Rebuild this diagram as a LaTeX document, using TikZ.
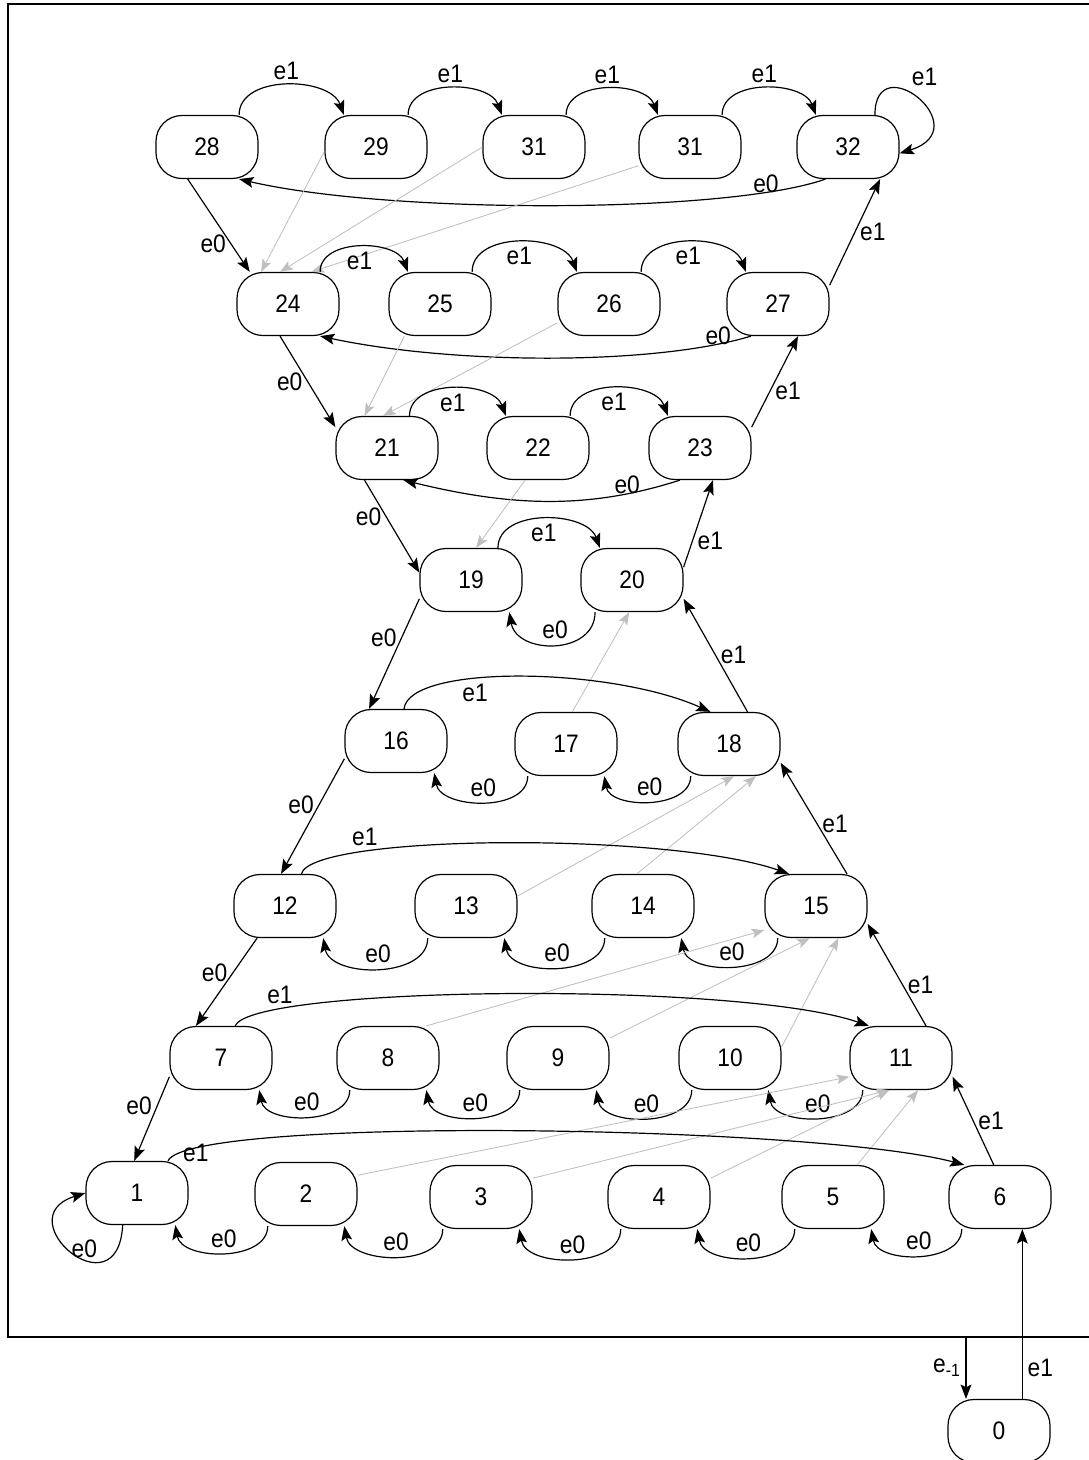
\documentclass[tikz,border=0pt]{standalone}
\usepackage{fontspec}
\setmainfont{Liberation Sans}[FakeStretch=0.9]
\usetikzlibrary{arrows.meta}

\begin{document}
\begin{tikzpicture}[x=0.025cm,y=-0.025cm,font=\fontsize{18}{21}\selectfont,
  state/.style={draw,rounded corners=0.65cm,minimum width=2.55cm,minimum height=1.575cm,line width=0.85pt},
  trans/.style={-{Stealth[length=3.6mm,width=2.7mm,inset=0.7mm]},line width=0.85pt},
  skip/.style={-{Stealth[length=3.2mm,width=2.4mm,inset=0.7mm]},line width=0.6pt,black!25}]
\useasboundingbox (0,0) rectangle (1089,1460);
\draw[line width=1pt] (8,4) rectangle (1100,1337);
\coordinate (exit) at (966,1337);
% states, top to bottom
\node[state] (q28) at (207,147) {28};
\node[state] (q29) at (376,147) {29};
\node[state] (q30) at (534,147) {31};
\node[state] (q31) at (690,147) {31};
\node[state] (q32) at (848,147) {32};
\node[state] (q24) at (288,304) {24};
\node[state] (q25) at (440,304) {25};
\node[state] (q26) at (609,304) {26};
\node[state] (q27) at (778,304) {27};
\node[state] (q21) at (387,448) {21};
\node[state] (q22) at (538,448) {22};
\node[state] (q23) at (700,448) {23};
\node[state] (q19) at (471,580) {19};
\node[state] (q20) at (632,580) {20};
\node[state] (q16) at (396,741) {16};
\node[state] (q17) at (566,744) {17};
\node[state] (q18) at (729,744) {18};
\node[state] (q12) at (285,906) {12};
\node[state] (q13) at (466,906) {13};
\node[state] (q14) at (643,906) {14};
\node[state] (q15) at (816,906) {15};
\node[state] (q7) at (221,1058) {7};
\node[state] (q8) at (388,1058) {8};
\node[state] (q9) at (558,1058) {9};
\node[state] (q10) at (730,1058) {10};
\node[state] (q11) at (901,1058) {11};
\node[state] (q1) at (137,1193) {1};
\node[state] (q2) at (306,1194) {2};
\node[state] (q3) at (481,1197) {3};
\node[state] (q4) at (659,1197) {4};
\node[state] (q5) at (833,1197) {5};
\node[state] (q6) at (1000,1197) {6};
\node[state] (q0) at (999,1431) {0};
% row 28..32
\draw[trans] (q28.45) to[out=90,in=110] node[above] {e1} (q29.135);
\draw[trans] (q29.45) to[out=90,in=110] node[above] {e1} (q30.135);
\draw[trans] (q30.45) to[out=90,in=110] node[above] {e1} (q31.135);
\draw[trans] (q31.45) to[out=90,in=110] node[above] {e1} (q32.135);
\draw[trans] (q32.50) .. controls +(0,-70) and +(80,-25) .. (q32.-7) node[pos=0.4,above right] {e1};
\draw[trans] (q32.235) .. controls +(-100,35) and +(150,35) .. (q28.-45) node[pos=0.15,above=-4pt] {e0};
\draw[trans] (q28.-121) -- node[pos=0.7,left] {e0} (q24.140);
\draw[skip] (q29.185) -- (q24.130);
\draw[skip] (q30.180) -- (q24.104);
\draw[skip] (q31.200) -- (q24.54);
% row 24..27
\draw[trans] (q24.45) to[out=90,in=110] node[below] {e1} (q25.135);
\draw[trans] (q25.45) to[out=90,in=110] node[below] {e1} (q26.135);
\draw[trans] (q26.45) to[out=90,in=110] node[below] {e1} (q27.135);
\draw[trans] (q27.230) .. controls +(-100,30) and +(130,28) .. (q24.-45) node[pos=0.1,above=-4pt] {e0};
\draw[trans] (q27.20) -- node[right] {e1} (q32.-45);
\draw[trans] (q24.-104) -- node[left] {e0} (q21.158);
\draw[skip] (q25.222) -- (q21.125);
\draw[skip] (q26.200) -- (q21.97);
% row 21..23
\draw[trans] (q21.55) to[out=90,in=110] node[below] {e1} (q22.135);
\draw[trans] (q22.45) to[out=90,in=110] node[below] {e1} (q23.135);
\draw[trans] (q23.-122) .. controls +(-90,29) and +(110,27) .. (q21.-63) node[pos=0.2,above=-4pt] {e0};
\draw[trans] (q23.22) -- node[pos=0.4,right] {e1} (q27.-58);
\draw[trans] (q21.-125) -- node[pos=0.4,left] {e0} (q19.172);
\draw[skip] (q22.-112) -- (q19.81);
% row 19..20
\draw[trans] (q19.50) to[out=90,in=110] node[below] {e1} (q20.135);
\draw[trans] (q20.221) to[out=-90,in=-80,looseness=1.3] node[above] {e0} (q19.-40);
\draw[trans] (q20.14) -- node[pos=0.3,right] {e1} (q23.-68);
\draw[trans] (q19.200) -- node[pos=0.35,left] {e0} (q16.130);
\draw[trans] (q18.60) -- node[right] {e1} (q20.-20);
\draw[skip] (q17.79) -- (q20.265);
% row 16..18
\draw[trans] (q16.76) .. controls +(5,-45) and +(-100,-45) .. (q18.120) node[pos=0.37,below] {e1};
\draw[trans] (q17.220) to[out=-90,in=-80] node[above] {e0} (q16.-40);
\draw[trans] (q18.220) to[out=-90,in=-80] node[above] {e0} (q17.-40);
\draw[trans] (q16.199) -- node[pos=0.4,left] {e0} (q12.97);
\draw[trans] (q15.46) -- node[pos=0.45,right] {e1} (q18.-20);
\draw[skip] (q13.11) -- (q18.-81);
\draw[skip] (q14.101) -- (q18.-50);
% row 12..15
\draw[trans] (q12.63) .. controls +(10,-40) and +(-120,-42) .. (q15.130) node[pos=0.25,above] {e1};
\draw[trans] (q13.220) to[out=-90,in=-80] node[above] {e0} (q12.-40);
\draw[trans] (q14.220) to[out=-90,in=-80] node[above] {e0} (q13.-40);
\draw[trans] (q15.220) to[out=-90,in=-80] node[above] {e0} (q14.-40);
\draw[trans] (q12.-131) -- node[pos=0.4,left] {e0} (q7.128);
\draw[trans] (q11.52) -- node[pos=0.4,right] {e1} (q15.-19);
\draw[skip] (q8.40) -- (q15.205);
\draw[skip] (q9.21) -- (q15.-101);
\draw[skip] (q10.12) -- (q15.-55);
% row 7..11
\draw[trans] (q7.66) .. controls +(15,-40) and +(-130,-45) .. (q11.135) node[pos=0.17,above] {e1};
\draw[trans] (q8.220) to[out=-90,in=-80] node[above] {e0} (q7.-40);
\draw[trans] (q9.220) to[out=-90,in=-80] node[above] {e0} (q8.-40);
\draw[trans] (q10.220) to[out=-90,in=-80] node[above] {e0} (q9.-40);
\draw[trans] (q11.220) to[out=-90,in=-80] node[above] {e0} (q10.-40);
\draw[trans] (q7.200) -- node[pos=0.35,left] {e0} (q1.95);
\draw[trans] (q6.101) -- node[right] {e1} (q11.-20);
\draw[skip] (q2.20) -- (q11.200);
\draw[skip] (q3.20) -- (q11.-110);
\draw[skip] (q4.20) -- (q11.-110);
\draw[skip] (q5.53) -- (q11.-62);
% row 1..6
\draw[trans] (q1.46) .. controls +(20,-45) and +(-150,-40) .. (q6.138) node[pos=0.06,right] {e1};
\draw[trans] (q1.-114) .. controls +(-5,90) and +(-80,25) .. (q1.180) node[pos=0.4,above=-2pt] {e0};
\draw[trans] (q2.220) to[out=-90,in=-80] node[above] {e0} (q1.-40);
\draw[trans] (q3.220) to[out=-90,in=-80] node[above] {e0} (q2.-40);
\draw[trans] (q4.220) to[out=-90,in=-80] node[above] {e0} (q3.-40);
\draw[trans] (q5.220) to[out=-90,in=-80] node[above] {e0} (q4.-40);
\draw[trans] (q6.220) to[out=-90,in=-80] node[above] {e0} (q5.-40);
% state 0 outside the frame
\draw[trans] (q0.54) -- node[pos=0.18,right] {e1} (q0.54 |- q6.south);
\draw[trans] (exit) -- node[left] {e\textsubscript{-1}} (exit |- q0.north);
\end{tikzpicture}
\end{document}
